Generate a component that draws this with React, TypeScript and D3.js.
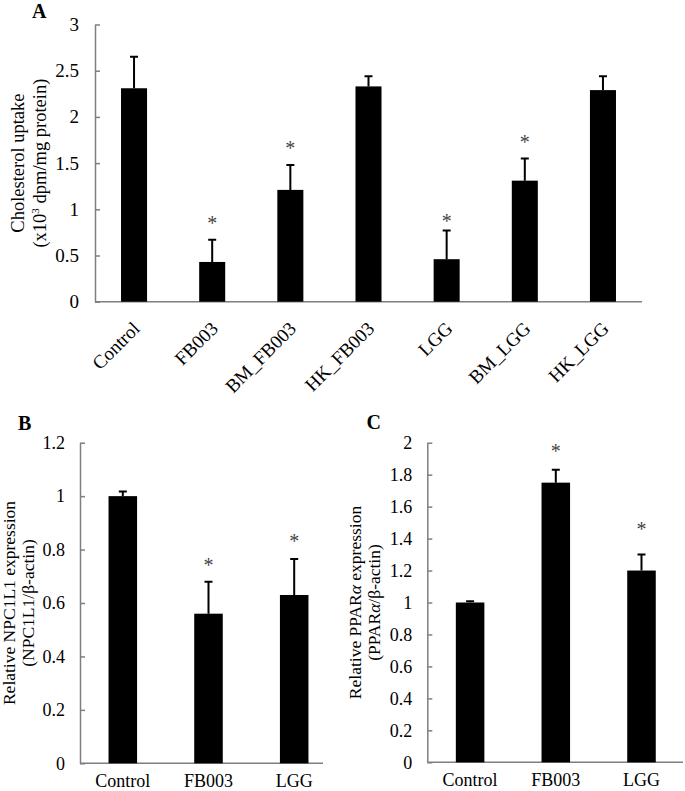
import React, { useEffect, useRef } from 'react';
import * as d3 from 'd3';

// panel A - cholesterol uptake
const groupsA = ['Control', 'FB003', 'BM_FB003', 'HK_FB003', 'LGG', 'BM_LGG', 'HK_LGG'];
const uptake = [2.31, 0.43, 1.21, 2.33, 0.46, 1.31, 2.29];
const uptakeErr = [0.34, 0.24, 0.27, 0.11, 0.31, 0.24, 0.15];
const uptakeStar = [null, 0.87, 1.69, null, 0.9, 1.75, null];
const ticksA = [0, 0.5, 1, 1.5, 2, 2.5, 3];

// panels B and C - expression
const groupsBC = ['Control', 'FB003', 'LGG'];
const npc1l1 = [1.0, 0.56, 0.63];
const npc1l1Err = [0.017, 0.12, 0.135];
const npc1l1Star = [null, 0.75, 0.84];
const ticksB = [0, 0.2, 0.4, 0.6, 0.8, 1, 1.2];

const ppara = [1.0, 1.75, 1.2];
const pparaErr = [0.008, 0.08, 0.1];
const pparaStar = [null, 1.96, 1.47];
const ticksC = [0, 0.2, 0.4, 0.6, 0.8, 1, 1.2, 1.4, 1.6, 1.8, 2];

const FONT = "'Liberation Serif', 'Times New Roman', serif";
const AXIS = '#7f7f7f';

function drawPanel(svg, p) {
    const g = svg.append('g');
    const y = d3.scaleLinear().domain([0, p.ticks[p.ticks.length - 1]]).range([p.bottom, p.top]);
    const x = d3
        .scaleBand()
        .domain(p.groups)
        .range([p.left, p.right])
        .paddingInner(0.667)
        .paddingOuter(0.333);

    const yAxis = g
        .append('g')
        .attr('transform', `translate(${p.left},0)`)
        .call(
            d3
                .axisLeft(y)
                .tickValues(p.ticks)
                .tickFormat((d) => String(+(+d).toFixed(1)))
                .tickSizeInner(-5)
                .tickSizeOuter(0)
                .tickPadding(p.tickPad)
        );
    yAxis.select('.domain').attr('stroke', AXIS).attr('stroke-width', 1.5);
    yAxis.selectAll('.tick line').attr('stroke', AXIS).attr('stroke-width', 1.5);
    yAxis
        .selectAll('.tick text')
        .attr('fill', '#000')
        .attr('font-family', FONT)
        .attr('font-size', p.tickSize);

    g.append('line')
        .attr('x1', p.left)
        .attr('x2', p.axisEnd)
        .attr('y1', y(0))
        .attr('y2', y(0))
        .attr('stroke', AXIS)
        .attr('stroke-width', 1.5);

    const rows = p.groups.map((name, i) => ({ name, v: p.values[i], e: p.errs[i], s: p.stars[i] }));

    g.selectAll('.err')
        .data(rows)
        .enter()
        .append('path')
        .attr('d', (d) => {
            const cx = x(d.name) + x.bandwidth() / 2;
            return `M${cx},${y(d.v)}V${y(d.v + d.e)}M${cx - 4},${y(d.v + d.e)}H${cx + 4}`;
        })
        .attr('stroke', '#000')
        .attr('stroke-width', 2)
        .attr('fill', 'none');

    g.selectAll('.bar')
        .data(rows)
        .enter()
        .append('rect')
        .attr('x', (d) => x(d.name))
        .attr('width', x.bandwidth())
        .attr('y', (d) => y(d.v))
        .attr('height', (d) => y(0) - y(d.v))
        .attr('fill', '#000');

    g.selectAll('.star')
        .data(rows.filter((d) => d.s != null))
        .enter()
        .append('text')
        .text('*')
        .attr('x', (d) => x(d.name) + x.bandwidth() / 2)
        .attr('y', (d) => y(d.s) + 9)
        .attr('text-anchor', 'middle')
        .attr('font-family', FONT)
        .attr('font-size', 20)
        .attr('fill', '#444');

    const labels = g
        .selectAll('.xlab')
        .data(p.groups)
        .enter()
        .append('text')
        .text((d) => d)
        .attr('font-family', FONT)
        .attr('font-size', p.xSize)
        .attr('fill', '#000');
    if (p.rotate) {
        labels
            .attr('text-anchor', 'end')
            .attr('transform', (d) => `translate(${x(d) + x.bandwidth() / 2 + 7},${y(0) + 28}) rotate(-45)`);
    } else {
        labels
            .attr('text-anchor', 'middle')
            .attr('x', (d) => x(d) + x.bandwidth() / 2)
            .attr('y', y(0) + 24);
    }

    const cy = (p.top + p.bottom) / 2;
    p.titleLines.forEach((line, i) => {
        const t = g
            .append('text')
            .attr('transform', `translate(${p.titleX[i]},${cy}) rotate(-90)`)
            .attr('text-anchor', 'middle')
            .attr('font-family', FONT)
            .attr('font-size', p.titleSize)
            .attr('fill', '#000');
        line.forEach((part) => {
            const ts = t.append('tspan').text(part.t);
            if (part.italic) ts.attr('font-style', 'italic');
            if (part.sup) ts.attr('font-size', p.titleSize * 0.6).attr('dy', -7);
            if (part.after) ts.attr('dy', 7);
        });
    });

    g.append('text')
        .text(p.letter)
        .attr('x', p.letterX)
        .attr('y', p.letterY)
        .attr('font-family', FONT)
        .attr('font-weight', 'bold')
        .attr('font-size', 20)
        .attr('fill', '#000');
}

export default function App() {
    const ref = useRef(null);

    useEffect(() => {
        const svg = d3.select(ref.current);
        svg.selectAll('*').remove();

        drawPanel(svg, {
            groups: groupsA,
            values: uptake,
            errs: uptakeErr,
            stars: uptakeStar,
            ticks: ticksA,
            left: 95,
            right: 642,
            axisEnd: 642,
            top: 24.5,
            bottom: 301.7,
            tickSize: 19,
            tickPad: 16,
            xSize: 19,
            rotate: true,
            titleSize: 18.5,
            titleX: [23.5, 45.5],
            titleLines: [
                [{ t: 'Cholesterol uptake' }],
                [{ t: '(x10' }, { t: '3', sup: true }, { t: ' dpm/mg protein)', after: true }],
            ],
            letter: 'A',
            letterX: 32,
            letterY: 18,
        });

        drawPanel(svg, {
            groups: groupsBC,
            values: npc1l1,
            errs: npc1l1Err,
            stars: npc1l1Star,
            ticks: ticksB,
            left: 80,
            right: 337,
            axisEnd: 323,
            top: 442.7,
            bottom: 763.3,
            tickSize: 18,
            tickPad: 15,
            xSize: 18,
            rotate: false,
            titleSize: 17.5,
            titleX: [14.5, 34],
            titleLines: [[{ t: 'Relative NPC1L1 expression' }], [{ t: '(NPC1L1/β-actin)' }]],
            letter: 'B',
            letterX: 18,
            letterY: 430,
        });

        drawPanel(svg, {
            groups: groupsBC,
            values: ppara,
            errs: pparaErr,
            stars: pparaStar,
            ticks: ticksC,
            left: 427.3,
            right: 684.3,
            axisEnd: 683,
            top: 442.7,
            bottom: 762.3,
            tickSize: 18,
            tickPad: 15,
            xSize: 18,
            rotate: false,
            titleSize: 17.5,
            titleX: [360.5, 379.5],
            titleLines: [
                [{ t: 'Relative PPAR' }, { t: 'α', italic: true }, { t: ' expression' }],
                [{ t: '(PPAR' }, { t: 'α', italic: true }, { t: '/β-actin)' }],
            ],
            letter: 'C',
            letterX: 366.5,
            letterY: 429,
        });
    }, []);

    return (
        <svg
            ref={ref}
            width={685}
            height={791}
            style={{ position: 'absolute', left: 0, top: 0, background: '#fff' }}
        />
    );
}
